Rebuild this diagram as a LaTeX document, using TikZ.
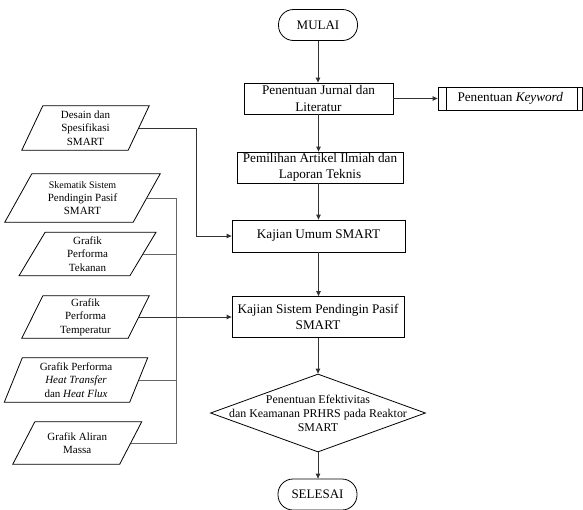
\documentclass[tikz,border=0pt]{standalone}
\usepackage{fontspec}
\setmainfont{Liberation Serif}
\usetikzlibrary{arrows.meta,shapes.geometric,calc}
\newcommand\pgram[7]{%
  \node[ptext, minimum width=#4pt, minimum height=#5pt] (#1) at (#2,#3) {#7};
  \draw[shapeline] ([xshift=#6pt]#1.north west) -- ([xshift=#6pt]#1.north east)
     -- ([xshift=-#6pt]#1.south east) -- ([xshift=-#6pt]#1.south west) -- cycle;}
\begin{document}
\begin{tikzpicture}[x=1pt,y=-1pt,
  shapeline/.style={draw=black, line width=0.8pt},
  boxst/.style={draw=black, line width=0.8pt, align=center, inner sep=0pt,
     font=\fontsize{13.2}{16.5}\selectfont},
  termst/.style={draw=black, line width=0.8pt, rounded corners=15pt, inner sep=0pt,
     minimum width=79pt, minimum height=31pt, font=\fontsize{13}{16}\selectfont},
  ptext/.style={align=center, inner sep=0pt, font=\fontsize{11}{13.3}\selectfont},
  conn/.style={draw=black!80, line width=0.8pt},
  arr/.style={conn, -{Triangle[length=5pt,width=4.5pt]}},
  busline/.style={draw=black!60, line width=0.8pt}]
\useasboundingbox (0,0) rectangle (583,509);

% main column
\node[termst] (mulai) at (318,25) {MULAI};
\node[boxst, minimum width=149pt, minimum height=31pt] (jurnal) at (318.5,98.5)
  {Penentuan Jurnal dan\\Literatur};
\node[boxst, minimum width=144.5pt, minimum height=23pt] (kw) at (510.25,98.5)
  {Penentuan \textit{Keyword}};
\draw[shapeline] ([xshift=9pt]kw.north west) -- ([xshift=9pt]kw.south west);
\draw[shapeline] ([xshift=-5.5pt]kw.north east) -- ([xshift=-5.5pt]kw.south east);
\node[boxst, minimum width=166pt, minimum height=31pt] (pemilihan) at (320,167.5)
  {Pemilihan Artikel Ilmiah dan\\Laporan Teknis};
\node[boxst, minimum width=173pt, minimum height=32pt] (kum) at (318.5,236)
  {Kajian Umum SMART};
\node[boxst, minimum width=172pt, minimum height=41pt] (kss) at (318,317)
  {Kajian Sistem Pendingin Pasif\\SMART};
\node[draw=black, line width=0.8pt, diamond, inner sep=0pt, minimum width=215pt,
  minimum height=78pt] (dec) at (318,413) {};
\node[align=center, inner sep=0pt, font=\fontsize{11.9}{14}\selectfont] (dectext) at (dec.center)
  {Penentuan Efektivitas\\dan Keamanan PRHRS pada Reaktor\\SMART};
\node[termst] (selesai) at (317.5,494.5) {SELESAI};

% left inputs
\pgram{desain}{85.5}{128}{106}{44}{10.5}{Desain dan\\Spesifikasi\\SMART}
\pgram{skem}{82.5}{198}{128}{48}{13.5}{\fontsize{10}{12}\selectfont Skematik Sistem\\Pendingin Pasif\\SMART}
\pgram{tek}{87.5}{254}{110.5}{43}{13}{Grafik\\Performa\\Tekanan}
\pgram{temp}{85.5}{317}{106}{42}{10.5}{Grafik\\Performa\\Temperatur}
\pgram{heat}{76}{380}{125}{44}{9}{Grafik Performa\\\textit{Heat Transfer}\\dan \textit{Heat Flux}}
\pgram{mass}{77.25}{443}{106.5}{42}{11}{Grafik Aliran\\Massa}

% connectors
\draw[arr] (mulai.south) -- (mulai.south |- jurnal.north);
\draw[arr] (jurnal.east) -- (kw.west);
\draw[arr] (jurnal.south) -- (jurnal.south |- pemilihan.north);
\draw[arr] (jurnal.south |- pemilihan.south) -- (jurnal.south |- kum.north);
\draw[arr] (kum.south) -- (kum.south |- kss.north);
\draw[arr] (kss.south) -- (kss.south |- dec.north);
\draw[arr] (dec.south) -- (dec.south |- selesai.north);

\coordinate (dbend) at (196,128);
\draw[arr] (desain.east) -- (dbend) |- (kum.west);

\coordinate (bus) at (176,198);
\draw[busline] (skem.east) -| (bus |- mass.east) -- (mass.east);
\draw[busline] (tek.east) -- (tek.east -| bus);
\draw[busline] (heat.east) -- (heat.east -| bus);
\draw[arr] (temp.east) -- (kss.west);
\end{tikzpicture}
\end{document}
